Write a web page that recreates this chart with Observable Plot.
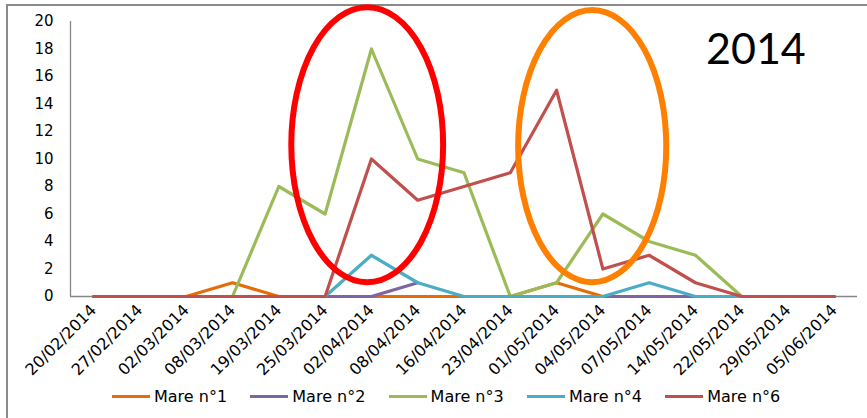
<!DOCTYPE html>
<html>
<head>
<meta charset="utf-8">
<script src="https://cdn.jsdelivr.net/npm/d3@7"></script>
<script src="https://cdn.jsdelivr.net/npm/@observablehq/plot@0.6"></script>
<style>
  body { margin: 0; background: #fff; }
  #wrap { position: relative; width: 867px; height: 418px; overflow: hidden; font-family: "DejaVu Sans", sans-serif; background: #fff; }
  #frame { position: absolute; left: 6px; top: 4px; width: 900px; height: 500px; border-left: 2px solid #8a8a8a; border-top: 2px solid #8a8a8a; pointer-events: none; }
  #chart { position: absolute; left: 0; top: 0; }
  #title { position: absolute; left: 706px; top: 22px; font-family: Lato, sans-serif; font-size: 43px; color: #000; }
  #legend { position: absolute; left: 112px; top: 385px; display: flex; }
  .item { width: 138.3px; display: flex; align-items: center; font-size: 16px; height: 22px; color: #000; }
  .sw { width: 38px; height: 3px; margin-right: 4px; flex: none; }
</style>
</head>
<body>
<div id="wrap">
  <div id="frame"></div>
  <div id="chart"></div>
  <div id="title">2014</div>
  <div id="legend"></div>
</div>
<script>
// ---- data ----
const dates = ["20/02/2014","27/02/2014","02/03/2014","08/03/2014","19/03/2014","25/03/2014","02/04/2014","08/04/2014","16/04/2014","23/04/2014","01/05/2014","04/05/2014","07/05/2014","14/05/2014","22/05/2014","29/05/2014","05/06/2014"];
const seriesNames = ["Mare n°1","Mare n°2","Mare n°3","Mare n°4","Mare n°6"];
const mare1 = [0,0,0,1,0,0,0,0,0,0,1,0,0,0,0,0,0];
const mare2 = [0,0,0,0,0,0,0,1,null,null,null,0,0,0,0,0,0];
const mare3 = [0,0,0,0,8,6,18,10,9,0,1,6,4,3,0,0,0];
const mare4 = [0,0,0,0,0,0,3,1,0,0,0,0,1,0,0,0,0];
const mare6 = [0,0,0,0,0,0,10,7,8,9,15,2,3,1,0,0,0];
const yTicks = [0,2,4,6,8,10,12,14,16,18,20];
const seriesColors = ["#E46C0A","#8064A2","#9BBB59","#4BACC6","#C0504D"];
// highlight ellipses (annotation, in data units)
const highlights = [
  {cx: 5.92, cy: 11.0, rx: 1.64, ry: 10.0, color: "#FF0000"},
  {cx: 10.78, cy: 10.9, rx: 1.60, ry: 9.9, color: "#FF8000"}
];

const allSeries = [mare1, mare2, mare3, mare4, mare6];
const rows = [];
allSeries.forEach((vals, k) => vals.forEach((v, i) => rows.push({i, v, s: seriesNames[k]})));
const xDomain = [-0.5, dates.length - 0.5];

const plot = Plot.plot({
  width: 867, height: 385,
  marginLeft: 70, marginRight: 10, marginTop: 21, marginBottom: 89,
  style: {fontFamily: "DejaVu Sans, sans-serif", fontSize: "15px", color: "#000", background: "transparent", overflow: "visible"},
  x: {type: "linear", domain: xDomain, label: null},
  y: {domain: [0, 20], label: null},
  color: {domain: seriesNames, range: seriesColors},
  marks: [
    Plot.ruleY([0], {stroke: "#868686", strokeWidth: 1.3}),
    Plot.ruleX([xDomain[0]], {y1: 0, y2: 20, stroke: "#868686", strokeWidth: 1.3}),
    Plot.axisY({ticks: yTicks, tickSize: 0, tickPadding: 17, tickFormat: d => d, fontSize: 15, label: null}),
    Plot.axisX({ticks: d3.range(dates.length), tickFormat: i => dates[i], tickRotate: -45, tickSize: 0, tickPadding: 11, fontSize: 16, label: null}),
    Plot.line(rows, {x: "i", y: "v", z: "s", stroke: "s", strokeWidth: 3.2, strokeLinejoin: "round"})
  ]
});
document.getElementById("chart").appendChild(plot);

const sx = plot.scale("x"), sy = plot.scale("y");
const g = d3.select(plot).append("g");
highlights.forEach(h => {
  g.append("ellipse")
    .attr("cx", sx.apply(h.cx))
    .attr("cy", sy.apply(h.cy))
    .attr("rx", Math.abs(sx.apply(h.cx + h.rx) - sx.apply(h.cx)))
    .attr("ry", Math.abs(sy.apply(h.cy + h.ry) - sy.apply(h.cy)))
    .attr("fill", "none")
    .attr("stroke", h.color)
    .attr("stroke-width", 6);
});

const legend = document.getElementById("legend");
seriesNames.forEach((n, k) => {
  const it = document.createElement("div");
  it.className = "item";
  it.innerHTML = `<span class="sw" style="background:${seriesColors[k]}"></span><span>${n}</span>`;
  legend.appendChild(it);
});
</script>
</body>
</html>
